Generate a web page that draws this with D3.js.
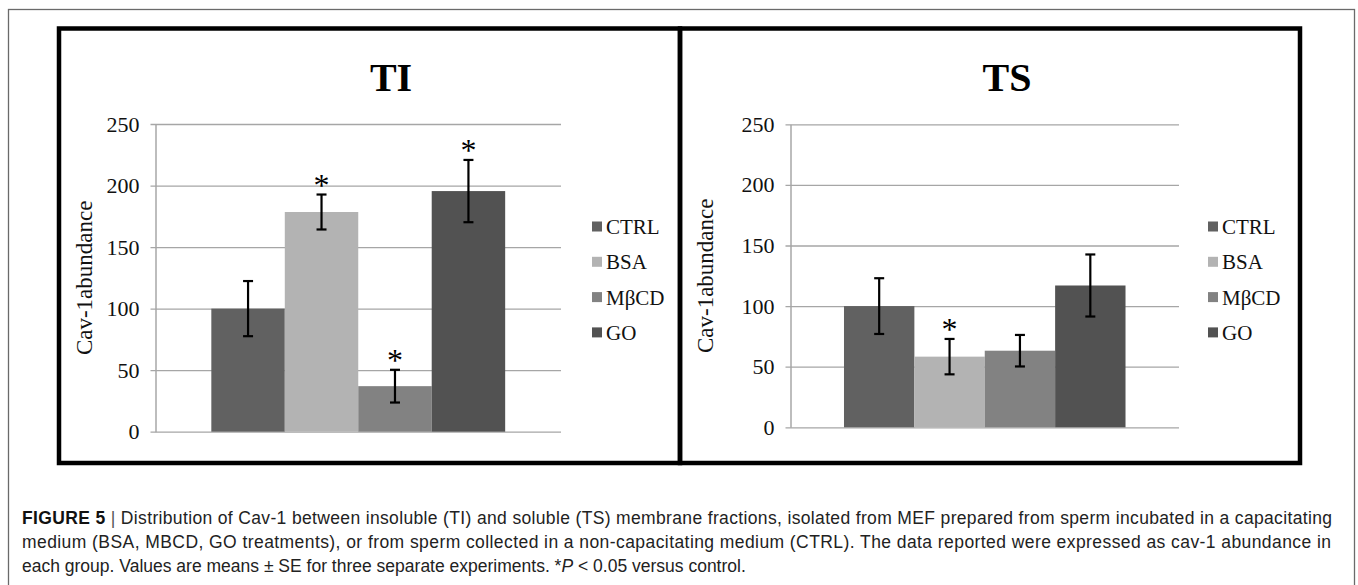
<!DOCTYPE html>
<html>
<head>
<meta charset="utf-8">
<script src="https://cdn.jsdelivr.net/npm/d3@7"></script>
<style>
  body { margin: 0; background: #fff; }
  svg { display: block; }
</style>
</head>
<body>
<script>
// treatment groups and their bar colours
var groups = ["CTRL", "BSA", "MβCD", "GO"];
var groupColors = ["#616161", "#b3b3b3", "#828282", "#525252"];

// TI (insoluble) fraction
var tiMeans = [100, 178.5, 37, 195.5];
var tiErrors = [22.4, 14.2, 13.3, 25.3];
var tiSignificant = [false, true, true, true];

// TS (soluble) fraction
var tsMeans = [100, 58.3, 63.2, 117];
var tsErrors = [23, 14.6, 13, 25.6];
var tsSignificant = [false, true, false, false];

var yTicks = [0, 50, 100, 150, 200, 250];

var captionLines = [
    "Distribution of Cav-1 between insoluble (TI) and soluble (TS) membrane fractions, isolated from MEF prepared from sperm incubated in a capacitating",
    "medium (BSA, MBCD, GO treatments), or from sperm collected in a non-capacitating medium (CTRL). The data reported were expressed as cav-1 abundance in"
];

var width = 1358, height = 585;
var serif = "'Liberation Serif', 'Times New Roman', serif";
var sans = "'Liberation Sans', Arial, Helvetica, sans-serif";

var svg = d3.select("body").append("svg")
    .attr("width", width)
    .attr("height", height);

// thin outer frame of the figure
svg.append("rect")
    .attr("x", 8.5).attr("y", 9.5)
    .attr("width", 1346).attr("height", 600)
    .attr("fill", "none")
    .attr("stroke", "#6a6a6a")
    .attr("stroke-width", 1.3);

var panels = [
    { title: "TI", means: tiMeans, errors: tiErrors, sig: tiSignificant,
      box: [59, 680], titleX: 391, plotX: [155.5, 561], plotY: [431.7, 124],
      legendX: 592 },
    { title: "TS", means: tsMeans, errors: tsErrors, sig: tsSignificant,
      box: [680, 1300], titleX: 1007, plotX: [790.5, 1179], plotY: [427.3, 124.3],
      legendX: 1208 }
];

panels.forEach(function (p) {
    var g = svg.append("g");

    // y scale and one band for the single category, split into the four groups
    var y = d3.scaleLinear().domain([0, 250]).range(p.plotY);
    var xCat = d3.scaleBand().domain(["all"]).range(p.plotX).paddingInner(0).paddingOuter(0.19);
    var x = d3.scaleBand().domain(groups)
        .range([xCat("all"), xCat("all") + xCat.bandwidth()]).padding(0);

    var data = groups.map(function (name, i) {
        return { name: name, mean: p.means[i], err: p.errors[i], sig: p.sig[i], color: groupColors[i] };
    });

    // gridlines with small ticks to the left of the axis
    var yAxis = d3.axisLeft(y)
        .tickValues(yTicks)
        .tickSize(-(p.plotX[1] - p.plotX[0]))
        .tickPadding(11)
        .tickSizeOuter(0);

    var axisG = g.append("g")
        .attr("transform", "translate(" + p.plotX[0] + ",0)")
        .call(yAxis);
    axisG.select(".domain").attr("stroke", "#9a9a9a").attr("stroke-width", 1.3);
    axisG.selectAll(".tick line")
        .attr("x1", -5)
        .attr("stroke", "#a6a6a6")
        .attr("stroke-width", 1.3);
    axisG.selectAll(".tick text")
        .attr("x", -16)
        .attr("fill", "#111")
        .style("font-family", serif)
        .style("font-size", "22px");

    // bars
    g.append("g").selectAll("rect")
        .data(data)
        .enter().append("rect")
        .attr("x", function (d) { return x(d.name); })
        .attr("y", function (d) { return y(d.mean); })
        .attr("width", x.bandwidth())
        .attr("height", function (d) { return y(0) - y(d.mean); })
        .attr("fill", function (d) { return d.color; });

    // error bars
    var eb = g.append("g").selectAll("g")
        .data(data)
        .enter().append("g")
        .attr("stroke", "#000")
        .attr("stroke-width", 2.2);
    var cx = function (d) { return x(d.name) + x.bandwidth() / 2; };
    eb.append("line")
        .attr("x1", cx).attr("x2", cx)
        .attr("y1", function (d) { return y(d.mean + d.err); })
        .attr("y2", function (d) { return y(d.mean - d.err); });
    eb.append("line")
        .attr("x1", function (d) { return cx(d) - 5; })
        .attr("x2", function (d) { return cx(d) + 5; })
        .attr("y1", function (d) { return y(d.mean + d.err); })
        .attr("y2", function (d) { return y(d.mean + d.err); });
    eb.append("line")
        .attr("x1", function (d) { return cx(d) - 5; })
        .attr("x2", function (d) { return cx(d) + 5; })
        .attr("y1", function (d) { return y(d.mean - d.err); })
        .attr("y2", function (d) { return y(d.mean - d.err); });

    // significance stars
    g.append("g").selectAll("text")
        .data(data.filter(function (d) { return d.sig; }))
        .enter().append("text")
        .attr("x", cx)
        .attr("y", function (d) { return y(d.mean + d.err) + 1; })
        .attr("text-anchor", "middle")
        .style("font-family", serif)
        .style("font-size", "32px")
        .text("*");

    // chart title
    g.append("text")
        .attr("x", p.titleX)
        .attr("y", 91)
        .attr("text-anchor", "middle")
        .style("font-family", serif)
        .style("font-size", "40px")
        .style("font-weight", "bold")
        .text(p.title);

    // y axis title
    var midY = (p.plotY[0] + p.plotY[1]) / 2;
    g.append("text")
        .attr("transform", "translate(" + (p.box[0] + 33) + "," + midY + ") rotate(-90)")
        .attr("text-anchor", "middle")
        .style("font-family", serif)
        .style("font-size", "23px")
        .attr("fill", "#111")
        .text("Cav-1abundance");

    // legend
    var leg = g.append("g").selectAll("g")
        .data(data)
        .enter().append("g")
        .attr("transform", function (d, i) { return "translate(" + p.legendX + "," + (226.5 + i * 35.3) + ")"; });
    leg.append("rect")
        .attr("x", 0).attr("y", -5)
        .attr("width", 10).attr("height", 10)
        .attr("fill", function (d) { return d.color; });
    leg.append("text")
        .attr("x", 14)
        .attr("y", 7.5)
        .attr("font-family", serif)
        .attr("font-size", 21)
        .attr("fill", "#111")
        .text(function (d) { return d.name; });

    // thick black panel border
    svg.append("rect")
        .attr("x", p.box[0]).attr("y", 28.5)
        .attr("width", p.box[1] - p.box[0]).attr("height", 434.5)
        .attr("fill", "none")
        .attr("stroke", "#000")
        .attr("stroke-width", 4.5);
});

// caption
var cap = svg.append("g")
    .style("font-family", sans)
    .style("font-size", "17.5px")
    .attr("fill", "#222");

var l1 = cap.append("text").attr("x", 22).attr("y", 524)
    .attr("textLength", 1310).attr("lengthAdjust", "spacing");
l1.append("tspan").style("font-weight", "bold").attr("fill", "#111").text("FIGURE 5");
l1.append("tspan").attr("fill", "#555").text(" | ");
l1.append("tspan").text(captionLines[0]);

cap.append("text").attr("x", 22).attr("y", 548)
    .attr("textLength", 1309).attr("lengthAdjust", "spacing")
    .text(captionLines[1]);

var l3 = cap.append("text").attr("x", 22).attr("y", 572);
l3.append("tspan").text("each group. Values are means \u00b1 SE for three separate experiments. *");
l3.append("tspan").style("font-style", "italic").text("P");
l3.append("tspan").text(" < 0.05 versus control.");
</script>
</body>
</html>
